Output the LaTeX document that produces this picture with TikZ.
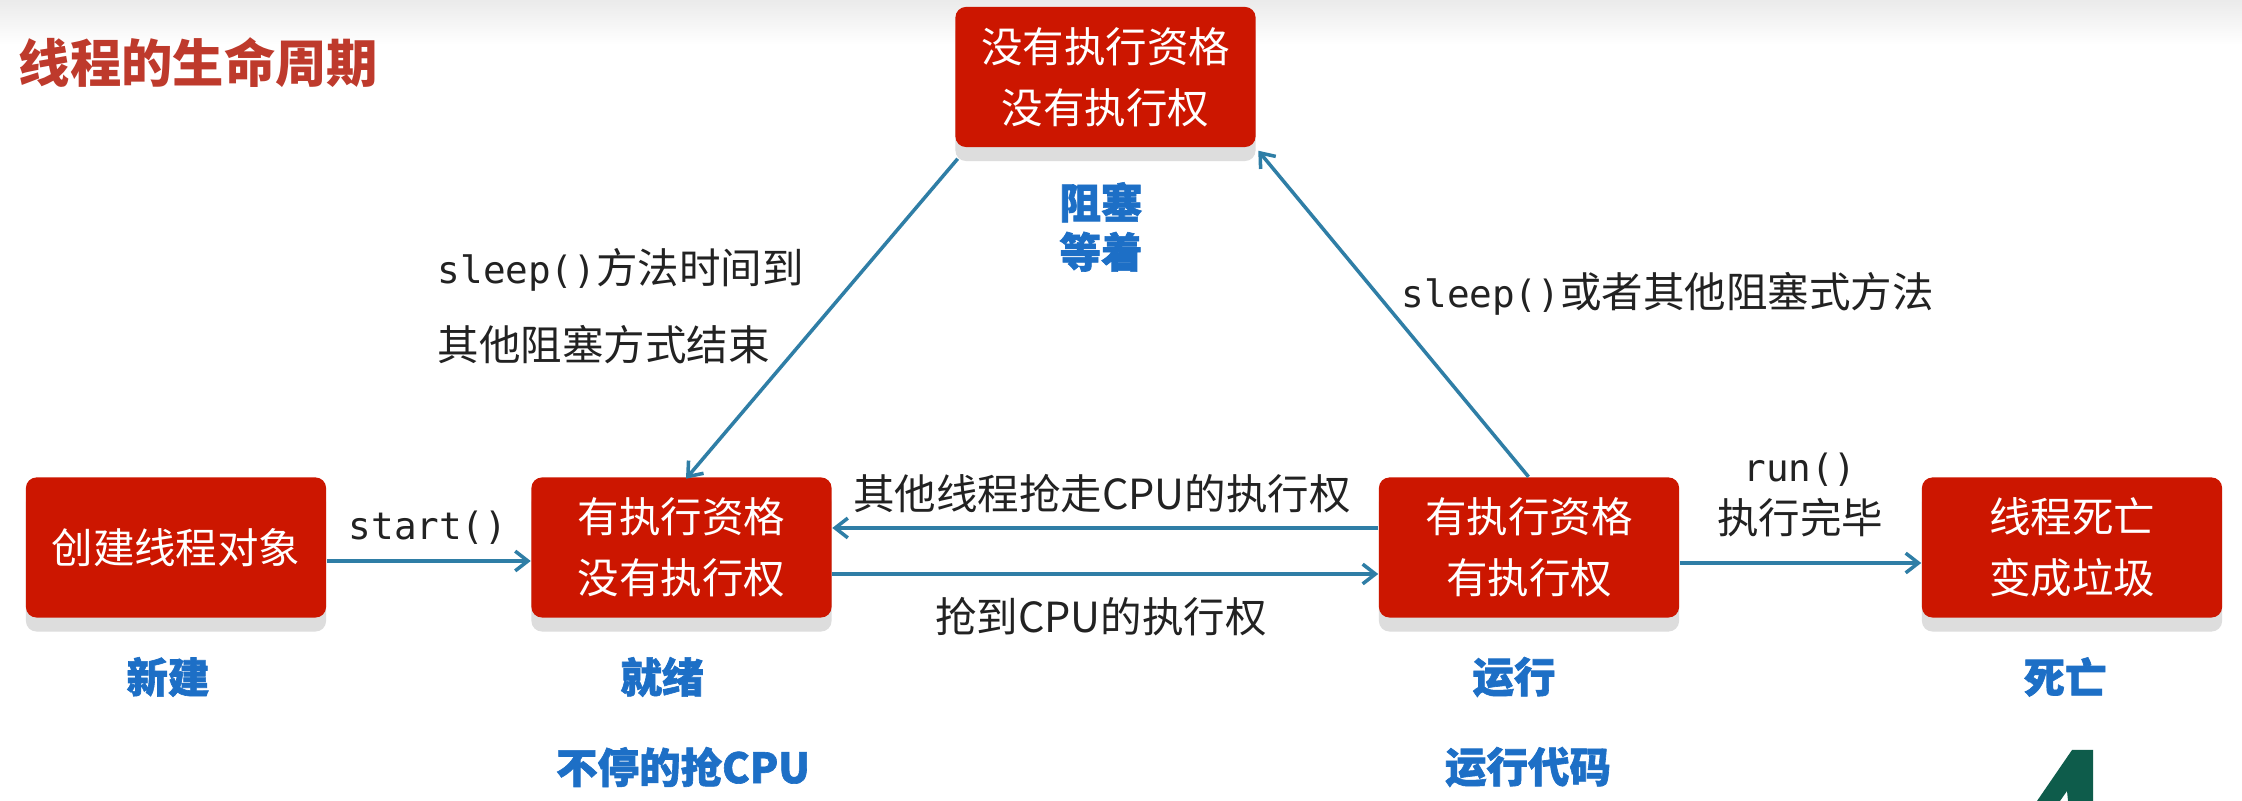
\documentclass[tikz,border=0pt]{standalone}
\usepackage{fontspec}
\setmainfont{Noto Sans CJK SC}
\newfontfamily\monof{DejaVu Sans Mono}
\newfontfamily\heavyf[BoldFeatures={FakeBold=1.5}]{Noto Sans CJK SC}
\usetikzlibrary{arrows.meta,shadows}
\definecolor{boxred}{HTML}{CC1600}
\definecolor{titlered}{HTML}{BE3A2C}
\definecolor{arrowblue}{HTML}{2F7EA6}
\definecolor{labelblue}{HTML}{1D6FC6}
\definecolor{shadowgray}{HTML}{DDDDDD}
\definecolor{logogreen}{HTML}{0E5C4B}
\definecolor{textgray}{HTML}{222222}
\newcommand\ttlfnt{\fontsize{14.6pt}{17pt}\selectfont\bfseries}
\newcommand\bxfnt{\fontsize{11.8pt}{17.4pt}\selectfont}
\newcommand\lblfnt{\fontsize{11.8pt}{14pt}\selectfont}
\newcommand\bluefnt{\heavyf\bfseries\fontsize{11.8pt}{14pt}\selectfont}
\newcommand\mcode[1]{{\monof\fontsize{10.7pt}{13pt}\selectfont #1}}
\tikzset{
  state/.style={fill=boxred, rounded corners=3pt, minimum width=3cm, minimum height=1.4cm,
    text=white, align=center, font=\bxfnt, inner sep=0pt,
    drop shadow={shadow xshift=0cm, shadow yshift=-0.14cm, fill=shadowgray, opacity=1}},
  conn/.style={draw=arrowblue, line width=1pt, -{Straight Barb[length=3.6pt,width=5.6pt]}},
  lbl/.style={inner sep=0pt, font=\lblfnt, text=textgray, align=left},
  bluelbl/.style={inner sep=0pt, font=\bluefnt, text=labelblue, align=center},
}
\begin{document}
\begin{tikzpicture}[x=0.01cm,y=-0.01cm]
\useasboundingbox (0,0) rectangle (2242,801);
\fill[white] (0,0) rectangle (2242,801);
\shade[top color=black!8, bottom color=white] (0,0) rectangle (2242,45);

\node[anchor=west, text=titlered, font=\ttlfnt, inner sep=0pt] (title) at (18,63) {线程的生命周期};

% states
\node[state] (top) at (1105.5,77) {没有执行资格\\没有执行权};
\node[state] (b1) at (176,547.5) {创建线程对象};
\node[state] (b2) at (681.5,547.5) {有执行资格\\没有执行权};
\node[state] (b3) at (1529,547.5) {有执行资格\\有执行权};
\node[state] (b4) at (2072,547.5) {线程死亡\\变成垃圾};

% connectors
\draw[conn] ([yshift=-0.135cm]b1.east) -- ([yshift=-0.135cm]b2.west);
\draw[conn] ([yshift=0.195cm]b3.west) -- ([yshift=0.195cm]b2.east);
\draw[conn] ([yshift=-0.265cm]b2.east) -- ([yshift=-0.265cm]b3.west);
\draw[conn] ([yshift=-0.155cm]b3.east) -- ([yshift=-0.155cm]b4.west);
\draw[conn] ([xshift=0.03cm,yshift=-0.11cm]top.south west) -- ([xshift=0.045cm,yshift=-0.02cm]b2.north);
\draw[conn] ([xshift=-0.005cm]b3.north) -- ([xshift=0.02cm,yshift=-0.03cm]top.south east);

% connector labels
\node[lbl] (lstart) at (428,528) {\mcode{start()}};
\node[lbl] (lsteal) at (1102,494) {其他线程抢走CPU的执行权};
\node[lbl] (lgrab) at (1101,617) {抢到CPU的执行权};
\node[lbl] (lrun) at (1800,470) {\mcode{run()}};
\node[lbl] (ldone) at (1800,518) {执行完毕};
\node[lbl, anchor=west] (lsleep1) at (437,270) {\mcode{sleep()}方法时间到};
\node[lbl, anchor=west] (lsleep2) at (437,345) {其他阻塞方式结束};
\node[lbl, anchor=west] (lblock) at (1401,294) {\mcode{sleep()}或者其他阻塞式方法};

% blue state names
\node[bluelbl] (nblock) at (1101,227) {阻塞\\等着};
\node[bluelbl] (nnew) at (168,677) {新建};
\node[bluelbl] (nready) at (662,677) {就绪};
\node[bluelbl] (nrun) at (1514,677) {运行};
\node[bluelbl] (ndead) at (2065,677) {死亡};
\node[bluelbl] (nready2) at (683,767) {不停的抢CPU};
\node[bluelbl] (nrun2) at (1528,767) {运行代码};

% partial logo glyph at the bottom edge
\fill[logogreen] (2037,801) -- (2072,750) -- (2093,750) -- (2093,801) -- (2068,801) -- (2067,791) -- (2060,801) -- cycle;
\end{tikzpicture}
\end{document}
